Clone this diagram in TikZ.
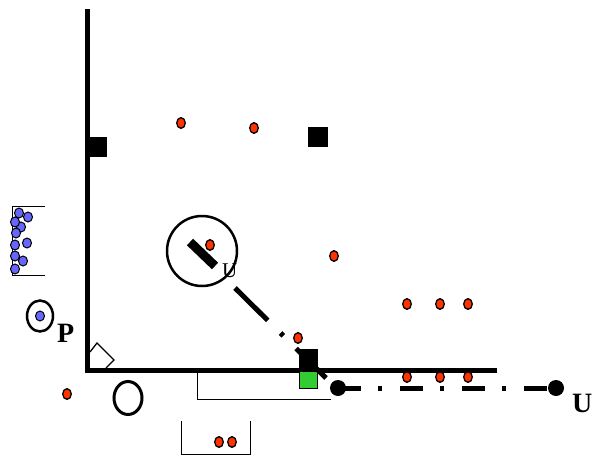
\documentclass[tikz,border=0pt]{standalone}
\usepackage{fontspec}
\setmainfont{Liberation Serif}
\begin{document}
\begin{tikzpicture}[x=1pt,y=-1pt,
  reddot/.style={fill={rgb,255:red,255;green,51;blue,0},draw=black,line width=1.3pt},
  bluedot/.style={fill={rgb,255:red,102;green,102;blue,255},draw=black,line width=1pt},
  axis/.style={line width=5pt},
  thin/.style={line width=1pt},
  blk/.style={fill=black},
  dashdot/.style={line width=5pt,dash pattern=on 46pt off 18pt on 4pt off 18pt},
  hdashdot/.style={line width=5pt,dash pattern=on 23pt off 17pt on 4pt off 18pt},
  lbl/.style={inner sep=0pt,anchor=base west,font=\fontsize{28}{30}\selectfont\bfseries}
]
\useasboundingbox (0,0) rectangle (594,455);
% axes
\draw[axis] (87.5,9) -- (87.5,372);
\draw[axis] (85,370) -- (497,370);
% right angle marker
\draw[line width=1.3pt,fill=white] (90,352) -- (97,343) -- (114,360) -- (106,368);
% black squares
\fill[blk] (88,137) rectangle (107,157);
\fill[blk] (308,127) rectangle (328,147);
\fill[blk] (299,349) rectangle (318,370);
% green square
\draw[thin,fill={rgb,255:red,51;green,204;blue,51}] (299,371) rectangle (317,388);
% thin L bracket
\draw[thin] (197,372) -- (197,399) -- (331,399);
% bottom bracket
\draw[thin] (181,421) -- (181,454) -- (250,454) -- (250,421);
% left bracket
\draw[thin] (45,206) -- (12,206) -- (12,275) -- (45,275);
% blue dots
\foreach \p in {(19,213),(28,217),(21,227),(15,222),(16,233),(27,243),(15,245),(15,256),(23,261),(15,269)}
  \draw[bluedot] \p ellipse (4.5pt and 5pt);
% P circle
\draw[line width=2.5pt] (40,316) ellipse (13pt and 15.5pt);
\draw[bluedot] (40,316) ellipse (4.5pt and 5pt);
\node[lbl] (P) at (57,342) {P};
% lower ellipse
\draw[line width=3pt] (128,398) ellipse (14pt and 16.5pt);
% magnifier circle
\draw[line width=2.5pt] (202,251) circle (35pt);
\draw[line width=9pt] (190,242) -- (215,266);
\node[inner sep=0pt,anchor=base west,font=\fontsize{21}{22}\selectfont] (U1) at (222,277) {U};
% diagonal dash dot
\draw[dashdot] (235,288) -- (326,378);
% horizontal dash-dot
\draw[hdashdot] (338,388) -- (556,388);
\fill (338,388) circle (8pt);
\fill (556,388) circle (8pt);
\node[lbl] (U2) at (572,412) {U};
% red dots
\foreach \p in {(181,123),(254,128),(334,256),(210,245),(298,338),(407,304),(440,304),(468,304),(407,377),(440,377),(468,377),(67,394),(219,442),(232,442)}
  \draw[reddot] \p ellipse (4.3pt and 5.3pt);
\end{tikzpicture}
\end{document}
